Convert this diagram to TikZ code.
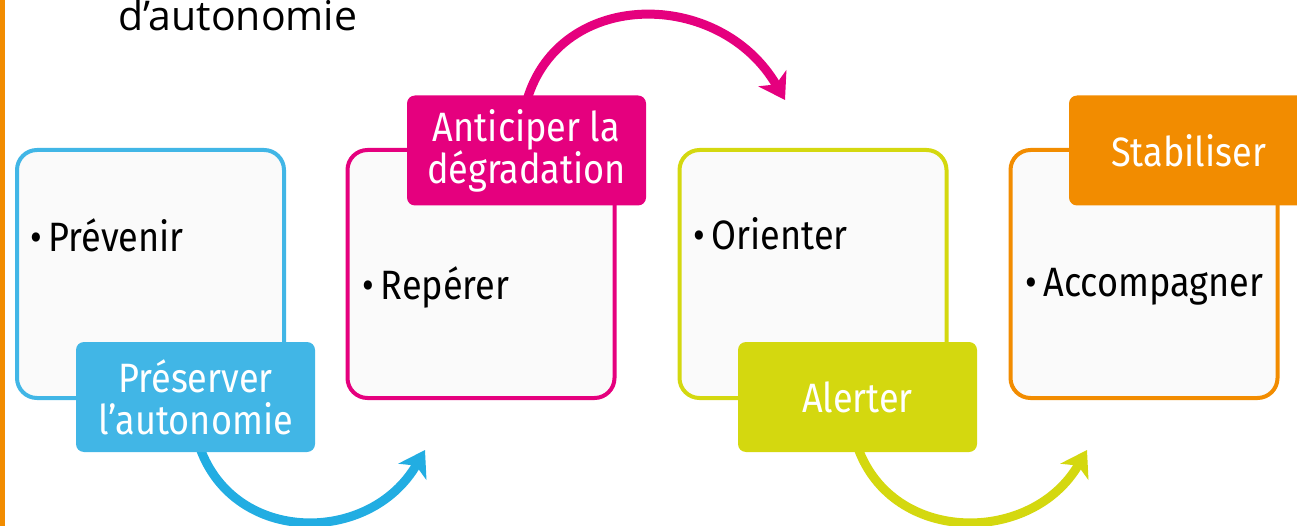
\documentclass[tikz,border=0pt]{standalone}
\usepackage{fontspec}
\setmainfont{Fira Sans}[FakeStretch=0.88]
\newfontfamily\titlefont{Open Sans}
\usetikzlibrary{arrows.meta}
\definecolor{cblue}{HTML}{41B6E6}
\definecolor{cbluearr}{HTML}{22ADE2}
\definecolor{cpink}{HTML}{E5007E}
\definecolor{cgreen}{HTML}{D4D80F}
\definecolor{corange}{HTML}{F28C00}
\definecolor{cfill}{HTML}{FAFAFA}
\tikzset{
  card/.style={draw=#1, line width=4pt, fill=cfill, rounded corners=20pt,
    minimum width=267pt, minimum height=248pt, inner sep=0pt},
  tag/.style={fill=#1, rounded corners=8pt, minimum width=239pt, minimum height=110pt,
    inner sep=0pt, text=white, align=center, font=\fontsize{41}{42}\selectfont},
  item/.style={anchor=west, inner sep=0pt, font=\fontsize{41}{42}\selectfont},
  bend/.style={draw=#1, line width=9pt, -{Stealth[length=25pt,width=32pt,inset=7pt]}},
}
\begin{document}
\begin{tikzpicture}[x=1pt,y=-1pt]
\useasboundingbox (0,0) rectangle (1297,526);
\clip (0,0) rectangle (1297,526);
\fill[corange] (0,0) rectangle (5,526);
\node[anchor=base west, inner sep=0pt, font=\titlefont\fontsize{41}{42}\selectfont] (title) at (118,31) {d’autonomie};
% arrows (behind)
\coordinate (a1s) at (200,448);
\coordinate (a1e) at (425,450);
\coordinate (a2s) at (527,100);
\coordinate (a2e) at (785,100);
\coordinate (a3s) at (858,448);
\coordinate (a3e) at (1087,450);
\draw[bend=cbluearr] (a1s) .. controls (235,545) and (370,545) .. (a1e);
\draw[bend=cpink] (a2s) .. controls (560,-12) and (720,-12) .. (a2e);
\draw[bend=cgreen] (a3s) .. controls (893,545) and (1032,545) .. (a3e);
% cards
\node[card=cblue] (b1) at (150.5,274) {};
\node[card=cpink] (b2) at (481,274) {};
\node[card=cgreen] (b3) at (813,274) {};
\node[card=corange] (b4) at (1144,274) {};
% tags
\node[tag=cblue] (t1) at (195.5,397) {Préserver\\l’autonomie};
\node[tag=cpink] (t2) at (526.5,150.5) {Anticiper la\\dégradation};
\node[tag=cgreen] (t3) at (857.5,397) {Alerter};
\node[tag=corange] (t4) at (1188.5,150.5) {Stabiliser};
% items
\node[item] (i1) at (30,235) {•\,Prévenir};
\node[item] (i2) at (362,287) {•\,Repérer};
\node[item] (i3) at (693,234) {•\,Orienter};
\node[item] (i4) at (1025,287) {•\,Accompagner};
\end{tikzpicture}
\end{document}
